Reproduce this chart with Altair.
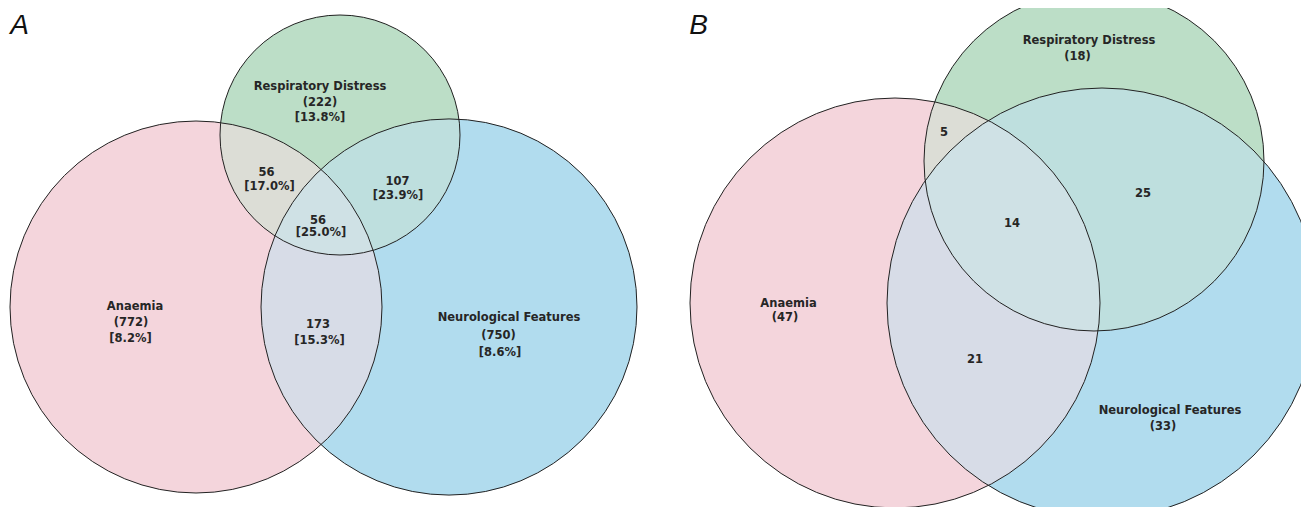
import altair as alt
import pandas as pd

# ---------------- data ----------------
set_names = ["Anaemia", "Respiratory Distress", "Neurological Features"]
set_keys = ["A", "R", "N"]

# Panel A
a_set_counts = [772, 222, 750]
a_set_pct = [8.2, 13.8, 8.6]
a_region_keys = ["AR", "RN", "ARN", "AN"]
a_region_counts = [56, 107, 56, 173]
a_region_pct = [17.0, 23.9, 25.0, 15.3]

# Panel B
b_set_counts = [47, 18, 33]
b_region_keys = ["AR", "RN", "ARN", "AN"]
b_region_counts = [5, 25, 14, 21]

# ---------------- layout (page pixel space) ----------------
a_cx = [196, 340, 449]
a_cy = [307, 135, 307]
a_r = [186, 120, 188]
b_cx = [895, 1094, 1102]
b_cy = [303, 161, 303]
b_r = [205, 170, 215]

# base colours (pre-darkened so that a light white veil gives the final tint)
colors = {"A": "#F3D1D8", "R": "#B5DBC1", "N": "#A9D8ED"}
veil = 0.1

a_set_label_pos = {
    "A": [(135, 307), (131, 323), (130.5, 339)],
    "R": [(320, 87), (320, 103), (320, 118)],
    "N": [(509, 318), (498.5, 336), (500, 353)],
}
a_region_pos = {
    "AR": [(266.5, 173), (269.5, 187)],
    "RN": [(397.5, 182), (398, 196)],
    "ARN": [(318, 221), (321, 233)],
    "AN": [(318, 325), (319.5, 341)],
}
b_set_label_pos = {
    "A": [(788.5, 304), (785, 318)],
    "R": [(1089, 41), (1077.5, 57)],
    "N": [(1170, 411), (1163, 427)],
}
b_region_pos = {
    "AR": [(944, 133)],
    "RN": [(1143, 194)],
    "ARN": [(1012, 224)],
    "AN": [(975, 360)],
}

# ---------------- build tables ----------------
circ_rows = []
for panel, cxs, cys, rs in [("A", a_cx, a_cy, a_r), ("B", b_cx, b_cy, b_r)]:
    for k, cx, cy, r in zip(set_keys, cxs, cys, rs):
        circ_rows.append({"panel": panel, "set": k, "cx": cx, "cy": cy,
                          "size": (2 * r) ** 2, "color": colors[k]})
circles = pd.DataFrame(circ_rows)

lab_rows = []
for i, k in enumerate(set_keys):
    lines = [set_names[i], f"({a_set_counts[i]})", f"[{a_set_pct[i]}%]"]
    for line, (x, y) in zip(lines, a_set_label_pos[k]):
        lab_rows.append({"x": x, "y": y, "text": line})
for k, n, p in zip(a_region_keys, a_region_counts, a_region_pct):
    lines = [f"{n}", f"[{p}%]"]
    for line, (x, y) in zip(lines, a_region_pos[k]):
        lab_rows.append({"x": x, "y": y, "text": line})
for i, k in enumerate(set_keys):
    lines = [set_names[i], f"({b_set_counts[i]})"]
    for line, (x, y) in zip(lines, b_set_label_pos[k]):
        lab_rows.append({"x": x, "y": y, "text": line})
for k, n in zip(b_region_keys, b_region_counts):
    for line, (x, y) in zip([f"{n}"], b_region_pos[k]):
        lab_rows.append({"x": x, "y": y, "text": line})
labels = pd.DataFrame(lab_rows)

panel_tags = pd.DataFrame({"text": ["A", "B"], "x": [19.5, 698.5], "y": [26, 26]})

# ---------------- chart ----------------
W, H = 1293, 499
xs = alt.Scale(domain=[8, 8 + W], nice=False, zero=False)
ys = alt.Scale(domain=[8, 8 + H], nice=False, zero=False, reverse=True)

X = alt.X("cx:Q", scale=xs, axis=None)
Y = alt.Y("cy:Q", scale=ys, axis=None)
S = alt.Size("size:Q", scale=None, legend=None)
F = alt.Fill("color:N", scale=None, legend=None)

base = alt.Chart(circles)


def disc(setkey, fop):
    return base.transform_filter(alt.datum.set == setkey).mark_point(
        shape="circle", filled=True, opacity=1, fillOpacity=fop, strokeWidth=0
    ).encode(x=X, y=Y, size=S, fill=F)


layers = [
    disc("N", 1), disc("R", 1), disc("A", 1),
    disc("R", 0.5), disc("N", 0.5),
    base.mark_point(shape="circle", filled=True, opacity=1, fill="white",
                    fillOpacity=veil, strokeWidth=0).encode(x=X, y=Y, size=S),
    base.mark_point(shape="circle", filled=False, opacity=1, stroke="#222222",
                    strokeWidth=1).encode(x=X, y=Y, size=S),
]

text = alt.Chart(labels).mark_text(
    font="DejaVu Sans", fontWeight="bold", fontSize=11.5, color="#262626",
    align="center", baseline="middle"
).encode(x=alt.X("x:Q", scale=xs, axis=None), y=alt.Y("y:Q", scale=ys, axis=None),
         text="text:N")

tags = alt.Chart(panel_tags).mark_text(
    font="Liberation Sans", fontStyle="italic", fontSize=28, color="#111111",
    align="center", baseline="middle"
).encode(x=alt.X("x:Q", scale=xs, axis=None), y=alt.Y("y:Q", scale=ys, axis=None),
         text="text:N")

chart = alt.layer(*layers, text, tags).properties(
    width=W, height=H, padding=0, autosize=alt.AutoSizeParams(type="none"),
    background="white"
).configure_view(strokeWidth=0)

chart.save("out.html", embed_options={"renderer": "svg", "actions": False})
